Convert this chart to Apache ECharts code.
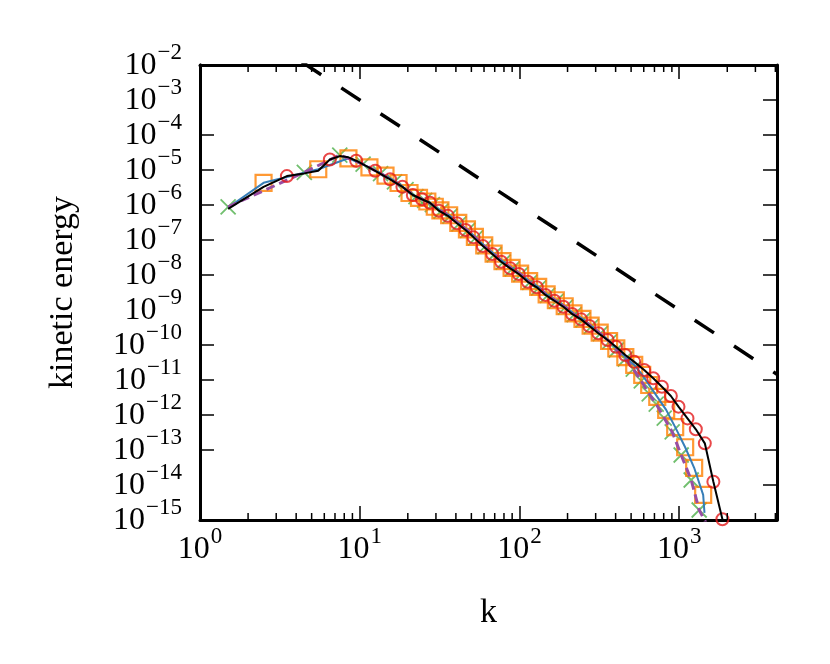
<!DOCTYPE html>
<html>
<head>
<meta charset="utf-8">
<script src="https://cdn.jsdelivr.net/npm/echarts@6/dist/echarts.min.js"></script>
<style>
  html, body { margin: 0; padding: 0; background: #fff; }
  #chart { width: 830px; height: 664px; }
</style>
</head>
<body>
<div id="chart"></div>
<script>
// red circles (black solid line runs through them)
const circleK = [3.5, 6.5, 9.5, 12.5, 15.5, 18.5, 21.5, 24.5, 27.5, 31.3, 35.6, 40.6, 46.0, 51.6, 59.0, 67.5, 76.8, 87.5, 99.0, 112.7,
  128.3, 145.4, 165.5, 188.4, 213.4, 243, 273.8, 311.6, 356.4, 402, 459.7, 523.3, 604, 688, 779.6, 887, 990, 1127, 1271, 1447, 1637, 1865];
const circleE = [6.7e-6, 2.0e-5, 1.84e-5, 9.5e-6, 5.4e-6, 3.3e-6, 1.93e-6, 1.46e-6, 1.16e-6, 6.9e-7, 4.9e-7, 3.0e-7, 1.93e-7, 1.19e-7, 6.7e-8, 4.0e-8, 2.4e-8, 1.55e-8, 1.07e-8, 6.4e-9,
  4.45e-9, 2.7e-9, 1.84e-9, 1.24e-9, 7.7e-10, 5.4e-10, 3.5e-10, 2.16e-10, 1.39e-10, 8.9e-11, 5.2e-11, 3.3e-11, 1.93e-11, 1.12e-11, 6.4e-12, 3.5e-12, 1.73e-12, 8.0e-13, 3.9e-13, 1.55e-13, 1.24e-14, 1.05e-15];
// black line points between the circles at low k
const blackExtraK = [1.5, 2.5, 4.5, 5.5, 7.5, 8.5];
const blackExtraE = [7.7e-7, 3.3e-6, 8.0e-6, 9.5e-6, 2.5e-5, 2.3e-5];

// orange squares (blue line)
const squareK = [2.5, 5.5, 8.5, 11.5, 14.5, 17.5, 20.5, 23.5, 26.5, 29.5, 32.0, 36.3, 41.4, 46.9, 52.6, 60.2, 68.9, 78.3, 89.3, 101,
  115, 131, 148, 169, 192, 218, 248, 279, 318, 364, 404, 460, 523, 587, 649, 729, 829, 944, 1090, 1241, 1413];
const squareE = [4.3e-6, 1.05e-5, 2.16e-5, 1.19e-5, 6.9e-6, 4.25e-6, 2.2e-6, 1.6e-6, 1.26e-6, 8.9e-7, 7.0e-7, 5.1e-7, 3.1e-7, 2.0e-7, 1.23e-7, 7.0e-8, 4.1e-8, 2.5e-8, 1.6e-8, 1.1e-8,
  6.7e-9, 4.6e-9, 2.8e-9, 1.9e-9, 1.28e-9, 8.0e-10, 5.6e-10, 3.6e-10, 2.25e-10, 1.3e-10, 8.0e-11, 4.5e-11, 2.7e-11, 1.4e-11, 7.2e-12, 3.3e-12, 1.4e-12, 4.5e-13, 1.2e-13, 3.1e-14, 5.2e-15];
const blueStartK = [1.5], blueStartE = [8.5e-7];
const blueEndK = [1440], blueEndE = [1.6e-15];

// green crosses (purple dashed line)
const crossK = [1.5, 4.5, 7.5, 10.5, 13.5, 16.5, 19.5, 22.5, 25.5, 28.5, 32.3, 36.7, 41.8, 47.4, 53.1, 60.8, 69.5, 79.1, 90.1, 102,
  116, 132, 150, 170, 194, 220, 250, 282, 321, 367, 404, 460, 516, 579, 649, 718, 806, 904, 1029, 1189, 1334];
const crossE = [8.9e-7, 8.6e-6, 2.68e-5, 1.48e-5, 7.9e-6, 4.6e-6, 2.75e-6, 1.74e-6, 1.35e-6, 1.02e-6, 6.7e-7, 4.8e-7, 2.9e-7, 1.87e-7, 1.15e-7, 6.5e-8, 3.85e-8, 2.33e-8, 1.5e-8, 1.04e-8,
  6.2e-9, 4.3e-9, 2.6e-9, 1.78e-9, 1.2e-9, 7.4e-10, 5.2e-10, 3.4e-10, 2.1e-10, 1.25e-10, 7.2e-11, 3.98e-11, 2.06e-11, 9.4e-12, 4.0e-12, 2.06e-12, 8.2e-13, 3.3e-13, 7.2e-14, 1.39e-14, 1.93e-15];
const purpleEndK = [1500], purpleEndE = [7e-16];

// k^-3 reference line
const refK = [4.35, 4096];
const refE = [1.215e-2, 1.455e-11];

// axis ranges, decade exponents for the energy ticks, minor ticks on k
const kMin = 1, kMax = 4096;
const eMin = 1e-15, eMax = 1e-2;
const expMin = -15, expMax = -2;
const minorK = [2, 3, 4, 5, 6, 7, 8, 9, 20, 30, 40, 50, 60, 70, 80, 90, 200, 300, 400, 500, 600, 700, 800, 900, 2000, 3000, 4000];

const FONT = '"Liberation Serif", "DejaVu Serif", serif';
const pairs = (ks, es) => ks.map((k, i) => [k, es[i]]);

const blackLine = pairs(circleK.concat(blackExtraK), circleE.concat(blackExtraE)).sort((a, b) => a[0] - b[0]);
const blueLine = pairs(blueStartK.concat(squareK, blueEndK), blueStartE.concat(squareE, blueEndE));
const purpleLine = pairs(crossK.concat(purpleEndK), crossE.concat(purpleEndE));

function expText(r) {
  const s = r < 0 ? '\u2212' + (-r) : '' + r;
  return '{b|10}{s|' + s + '}';
}
// label for a log axis value
function powLabel(v) {
  const e = Math.log10(v);
  const r = Math.round(e);
  if (Math.abs(e - r) > 1e-6) return '';
  return expText(r);
}

const labelRich = {
  b: { fontFamily: FONT, fontSize: 32, color: '#000', lineHeight: 20, verticalAlign: 'bottom' },
  s: { fontFamily: FONT, fontSize: 23, color: '#000', lineHeight: 12, padding: [0, 0, 18, 1], verticalAlign: 'bottom' }
};

const axisLine = { show: true, onZero: false, lineStyle: { color: '#000', width: 3 } };
const axisTick = { show: true, inside: true, length: 14, lineStyle: { color: '#000', width: 1.5 } };

// ECharts drops the label next to a forced min/max label, so those two decades get their own axis
const innerExp = [expMin + 1, expMax - 1];

const chart = echarts.init(document.getElementById('chart'));

const option = {
  animation: false,
  grid: { left: 200, right: 53, top: 65, bottom: 144, containLabel: false },
  xAxis: [
    {
      type: 'log', logBase: 10, min: kMin, max: kMax, splitNumber: 4, position: 'bottom',
      axisLine, axisTick, splitLine: { show: false },
      axisLabel: { formatter: powLabel, rich: labelRich, margin: 26 },
      name: 'k', nameLocation: 'middle', nameGap: 76,
      nameTextStyle: { fontFamily: FONT, fontSize: 34, color: '#000' }
    },
    {
      type: 'log', logBase: 10, min: kMin, max: kMax, splitNumber: 4, position: 'top',
      axisLine, axisTick, splitLine: { show: false }, axisLabel: { show: false }
    }
  ],
  yAxis: [
    {
      // data axis (log); its own ticks are every 10 decades, so the decade ticks come from the exponent axes below
      type: 'log', logBase: 10, min: eMin, max: eMax, position: 'left',
      axisLine, axisTick: { show: false }, splitLine: { show: false }, axisLabel: { show: false }
    },
    {
      type: 'value', min: expMin, max: expMax, interval: 1, position: 'left',
      axisLine, axisTick, splitLine: { show: false },
      axisLabel: {
        formatter: v => expText(Math.round(v)), rich: labelRich, margin: 18, padding: [14, 0, 0, 0],
        showMinLabel: true, showMaxLabel: true, hideOverlap: false
      },
      name: 'kinetic energy', nameLocation: 'middle', nameGap: 120,
      nameTextStyle: { fontFamily: FONT, fontSize: 34, color: '#000' }
    },
    {
      type: 'value', min: expMin, max: expMax, interval: 1, position: 'right',
      axisLine, axisTick, splitLine: { show: false }, axisLabel: { show: false }
    },
    {
      type: 'value', min: expMin, max: expMax, interval: 1, position: 'left',
      axisLine: { show: false }, axisTick: { show: false }, splitLine: { show: false },
      axisLabel: {
        formatter: v => (innerExp.indexOf(Math.round(v)) >= 0 ? expText(Math.round(v)) : ''),
        rich: labelRich, margin: 18, padding: [14, 0, 0, 0], showMinLabel: false, showMaxLabel: false
      }
    }
  ],
  series: [
    {
      type: 'scatter', z: 2, silent: true, data: pairs(crossK, crossE),
      symbol: 'path://M0 0L10 10M10 0L0 10', symbolSize: 15,
      itemStyle: { color: 'none', borderColor: '#4daf4a', borderWidth: 1.8 }
    },
    {
      type: 'scatter', z: 3, silent: true, data: pairs(squareK, squareE),
      symbol: 'rect', symbolSize: 16,
      itemStyle: { color: 'none', borderColor: '#ff7f00', borderWidth: 2.2 }
    },
    {
      type: 'line', z: 4, silent: true, data: blueLine, showSymbol: false, symbol: 'none',
      lineStyle: { color: '#377eb8', width: 2 }
    },
    {
      type: 'line', z: 5, silent: true, data: purpleLine, showSymbol: false, symbol: 'none',
      lineStyle: { color: '#984ea3', width: 3, type: [9, 5] }
    },
    {
      type: 'scatter', z: 6, silent: true, data: pairs(circleK, circleE),
      symbol: 'circle', symbolSize: 12,
      itemStyle: { color: 'none', borderColor: '#e41a1c', borderWidth: 2 }
    },
    {
      type: 'line', z: 7, silent: true, data: blackLine, showSymbol: false, symbol: 'none',
      lineStyle: { color: '#000', width: 2 }
    },
    {
      type: 'line', z: 8, silent: true, data: pairs(refK, refE), showSymbol: false, symbol: 'none',
      lineStyle: { color: '#000', width: 3.5, type: [23, 24] }
    },
    {
      // minor ticks on the bottom and top k axes
      type: 'custom', z: 9, silent: true,
      data: minorK.map(k => [k, eMin]),
      encode: { x: 0, y: 1 },
      renderItem: function (params, api) {
        const k = api.value(0);
        const b = api.coord([k, eMin]);
        const t = api.coord([k, eMax]);
        const st = { stroke: '#000', lineWidth: 1.5 };
        return {
          type: 'group',
          children: [
            { type: 'line', shape: { x1: b[0], y1: b[1], x2: b[0], y2: b[1] - 7 }, style: st },
            { type: 'line', shape: { x1: t[0], y1: t[1], x2: t[0], y2: t[1] + 7 }, style: st }
          ]
        };
      }
    }
  ]
};

chart.setOption(option);
</script>
</body>
</html>
